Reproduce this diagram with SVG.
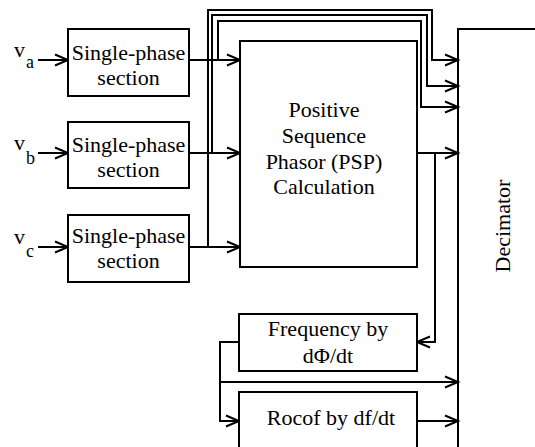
<svg xmlns="http://www.w3.org/2000/svg" width="535" height="447" viewBox="0 0 535 447">
  <style>
    .box { fill: #fff; stroke: #000; stroke-width: 2; }
    .wire { fill: none; stroke: #000; stroke-width: 2; }
    .arr { marker-end: url(#head); }
    .c { text-anchor: middle; }
  </style>
  <defs>
    <marker id="head" markerUnits="userSpaceOnUse" markerWidth="16" markerHeight="14" refX="13" refY="6" orient="auto" overflow="visible">
      <path d="M0,0.5 L13,6 L0,11.5" fill="none" stroke="#000" stroke-width="2"/>
    </marker>
  </defs>

  <g id="connectors">
    <!-- phase inputs -->
    <path class="wire arr" d="M38,60 H68"/>
    <path class="wire arr" d="M38,153 H68"/>
    <path class="wire arr" d="M38,247 H68"/>
    <!-- section outputs into PSP -->
    <path class="wire arr" d="M189,60 H240"/>
    <path class="wire arr" d="M189,153 H240"/>
    <path class="wire arr" d="M189,247 H240"/>
    <!-- section outputs routed over the top into the decimator -->
    <path class="wire arr" d="M218,60 V21 H421 V107 H458"/>
    <path class="wire arr" d="M212,153 V15 H427 V86 H458"/>
    <path class="wire arr" d="M208,247 V10 H432 V60 H458"/>
    <!-- PSP output -->
    <path class="wire arr" d="M417,153 H458"/>
    <path class="wire arr" d="M435,153 V342 H417"/>
    <!-- frequency output -->
    <path class="wire arr" d="M239,342 H220 V421 H239"/>
    <path class="wire arr" d="M220,382 H458"/>
    <!-- rocof output -->
    <path class="wire arr" d="M417,421 H458"/>
  </g>

  <g font-family="'Liberation Serif', 'Times New Roman', 'DejaVu Serif', serif" font-size="22" fill="#000">
    <!-- input labels -->
    <g id="inputs">
      <text x="14" y="57">v</text><text font-size="18" x="26" y="68">a</text>
      <text x="14" y="150">v</text><text font-size="18" x="26" y="164">b</text>
      <text x="14" y="244">v</text><text font-size="18" x="26" y="257">c</text>
    </g>

    <g id="section-a">
      <rect class="box" x="68" y="29" width="121" height="67"/>
      <text class="c" x="128.5" y="60">Single-phase</text>
      <text class="c" x="128.5" y="85">section</text>
    </g>
    <g id="section-b">
      <rect class="box" x="68" y="122" width="121" height="66"/>
      <text class="c" x="128.5" y="152">Single-phase</text>
      <text class="c" x="128.5" y="177">section</text>
    </g>
    <g id="section-c">
      <rect class="box" x="68" y="215" width="121" height="67"/>
      <text class="c" x="128.5" y="243">Single-phase</text>
      <text class="c" x="128.5" y="268">section</text>
    </g>

    <g id="psp">
      <rect class="box" x="240" y="41" width="177" height="226"/>
      <text class="c" x="324" y="117">Positive</text>
      <text class="c" x="324" y="143">Sequence</text>
      <text class="c" x="324" y="169">Phasor (PSP)</text>
      <text class="c" x="324" y="194">Calculation</text>
    </g>

    <g id="frequency">
      <rect class="box" x="239" y="314" width="178" height="57"/>
      <text class="c" x="328" y="336">Frequency by</text>
      <text class="c" x="328" y="363">dΦ/dt</text>
    </g>

    <g id="rocof">
      <rect class="box" x="239" y="392" width="178" height="70"/>
      <text class="c" x="331" y="425">Rocof by df/dt</text>
    </g>

    <g id="decimator">
      <path class="wire" d="M536,29 H458 V448"/>
      <text class="c" transform="translate(510,226) rotate(-90)">Decimator</text>
    </g>
  </g>
</svg>
